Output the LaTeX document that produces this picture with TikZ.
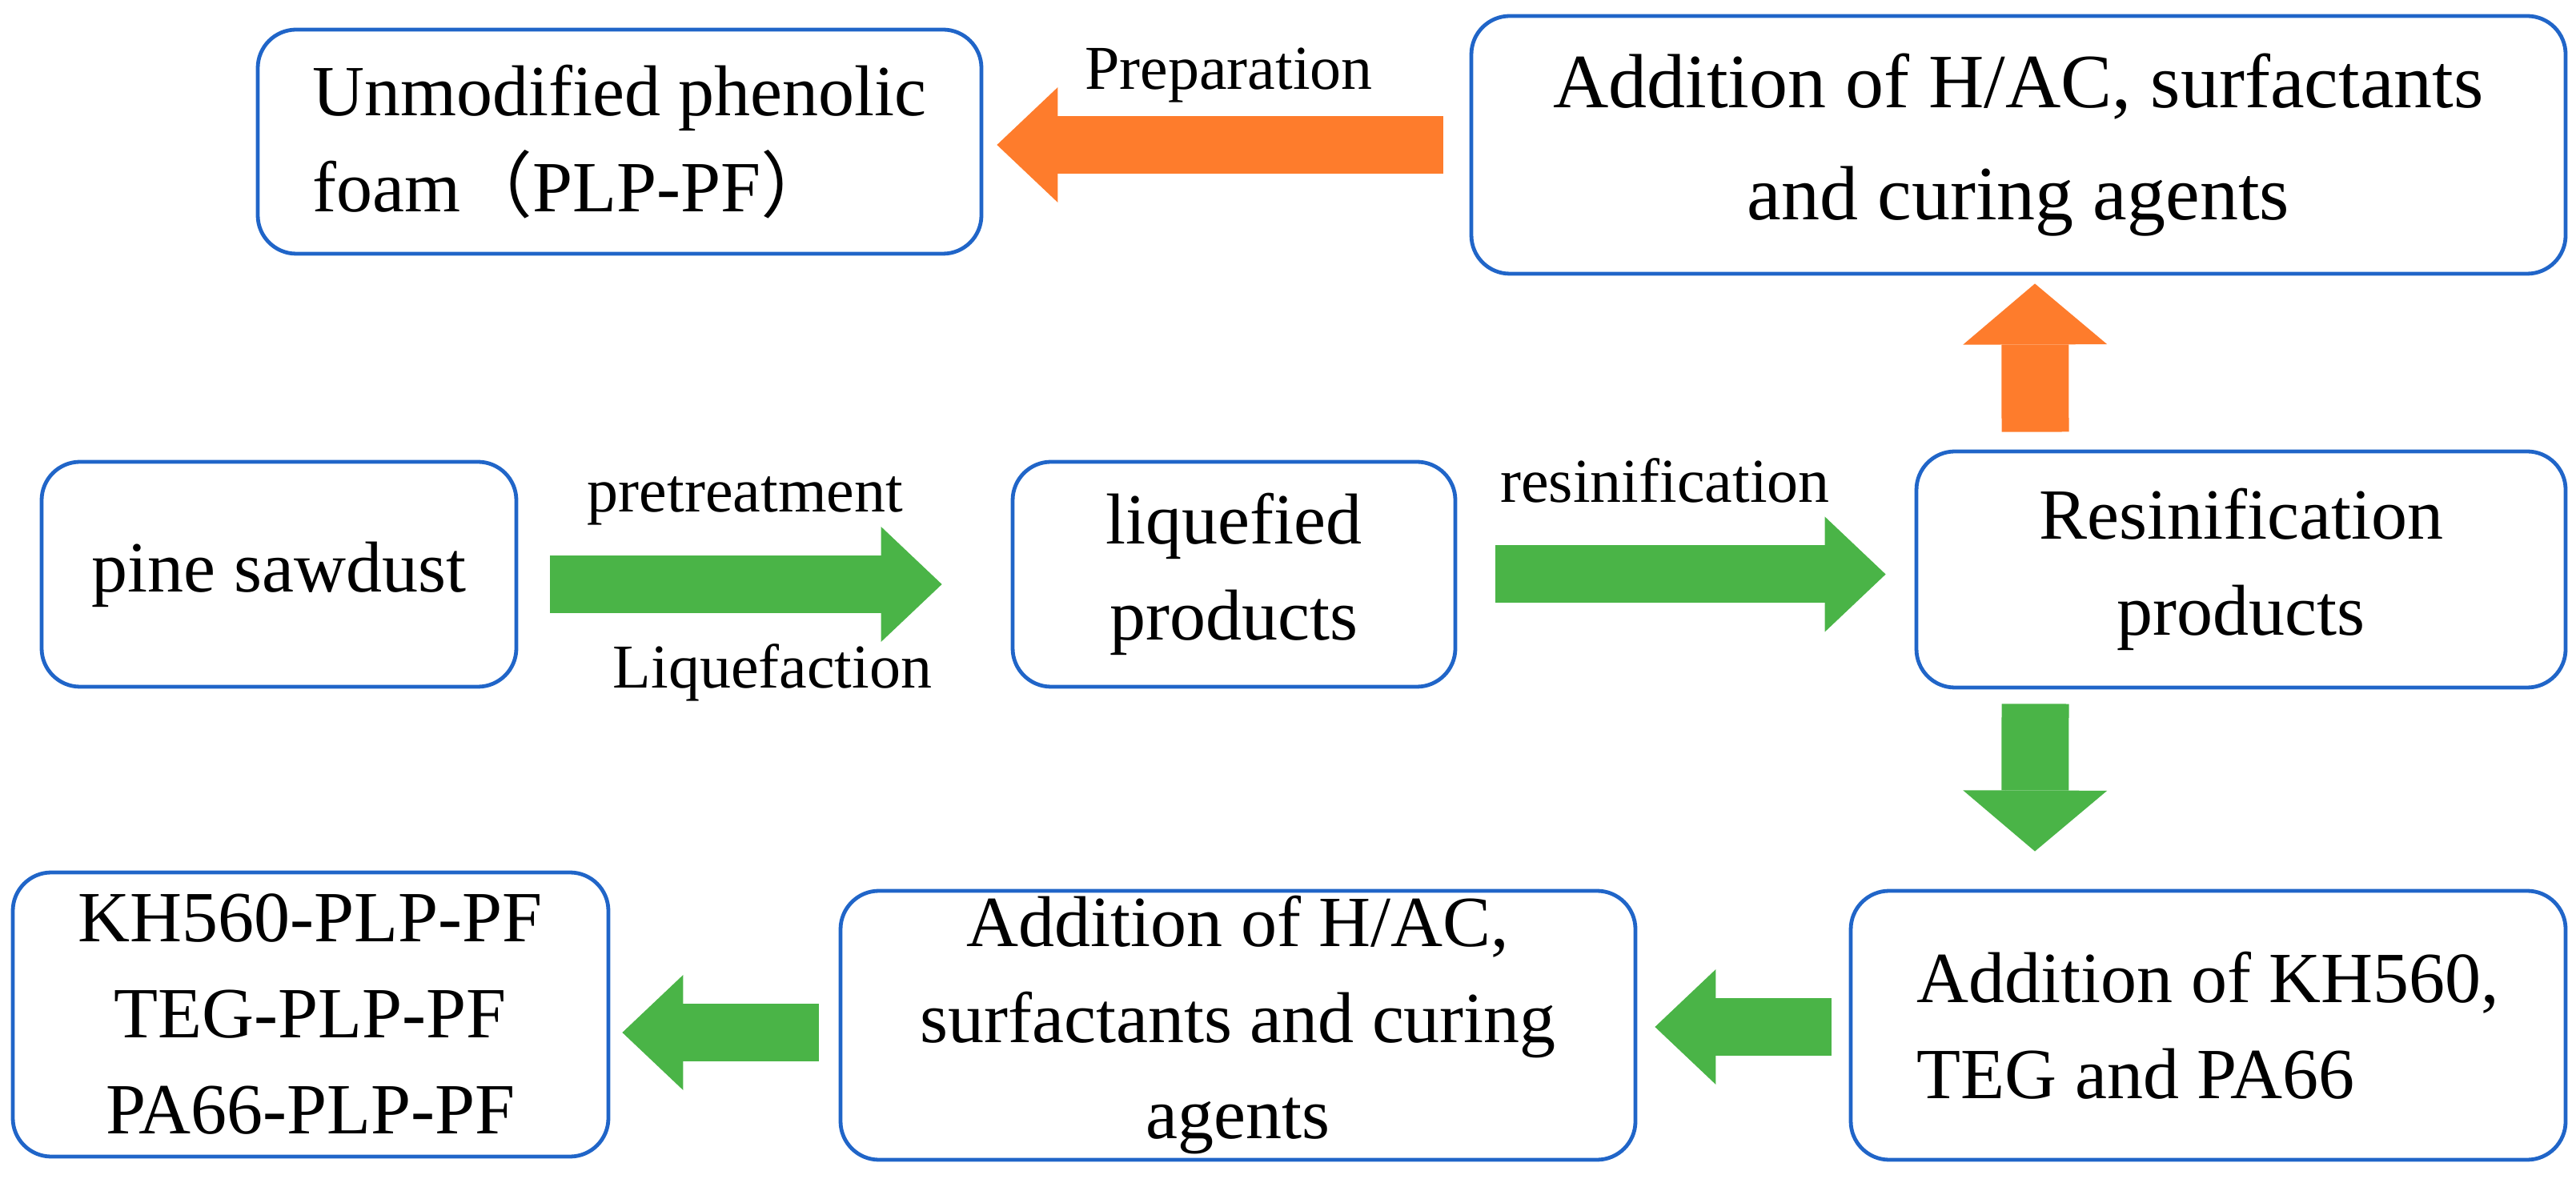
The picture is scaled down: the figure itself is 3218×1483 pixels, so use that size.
\documentclass[tikz,border=0pt]{standalone}
\usepackage{fontspec}
\setmainfont{Liberation Serif}
\newfontfamily\cjk{Noto Sans CJK SC}
\usetikzlibrary{arrows.meta,calc}
\definecolor{boxblue}{HTML}{2065C8}
\definecolor{argreen}{HTML}{4AB447}
\definecolor{arorange}{HTML}{FE7C2C}
\begin{document}
\begin{tikzpicture}[x=0.25pt,y=-0.25pt,
  box/.style={draw=boxblue, line width=1.2pt, rounded corners=12pt, inner sep=0pt,
    font=\fontsize{22.5}{30}\selectfont, align=center},
  lbl/.style={font=\fontsize{19.5}{23}\selectfont, inner sep=0pt},
  harr/.style={line width=18pt, -{Triangle[length=19pt,width=36pt,line width=0pt]}},
  varr/.style={line width=21pt, -{Triangle[length=19pt,width=45pt,line width=0pt]}}]
\useasboundingbox (0,0) rectangle (3218,1483);
% boxes
\node[box, minimum width=226pt, minimum height=70pt, align=left] (U) at (774,177)
  {Unmodified phenolic\\foam{\cjk （}PLP-PF{\cjk ）}};
\node[box, minimum width=341.75pt, minimum height=80.5pt, font=\fontsize{24}{35}\selectfont] (T) at (2521.5,181)
  {Addition of H/AC, surfactants\\and curing agents};
\node[box, minimum width=148.25pt, minimum height=70.25pt] (P) at (348.5,717.5) {pine sawdust};
\node[box, minimum width=138.25pt, minimum height=70.25pt] (L) at (1541.5,717.5) {liquefied\\products};
\node[box, minimum width=202.75pt, minimum height=73.75pt] (R) at (2799.5,711.5) {Resinification\\products};
\node[box, minimum width=223.25pt, minimum height=84pt, align=left] (K) at (2758.5,1281)
  {Addition of KH560,\\TEG and PA66};
\node[box, minimum width=248.25pt, minimum height=84pt] (M) at (1546.5,1281)
  {Addition of H/AC,\\surfactants and curing\\agents};
\node[box, minimum width=186pt, minimum height=88.75pt] (KH) at (388,1267.5)
  {KH560-PLP-PF\\TEG-PLP-PF\\PA66-PLP-PF};
% labels
\node[lbl, anchor=base] (prep) at (1535,112) {Preparation};
\node[lbl, anchor=base] (pret) at (931,640) {pretreatment};
\node[lbl, anchor=base] (liq) at (965,860) {Liquefaction};
\node[lbl, anchor=base] (resin) at (2080,628) {resinification};
% arrows
\draw[harr, argreen] ($(P.east)+(40,12.5)$) -- ($(L.west)+(-86,12.5)$);
\draw[harr, argreen] ($(L.east)+(48,0)$) -- ($(R.west)+(-36,6)$);
\draw[harr, arorange] ($(T.west)+(-33,0)$) -- ($(U.east)+(17,4)$);
\draw[varr, arorange] ($(R.north)+(-257,-22)$) -- ($(T.south)+(20.5,10)$);
\draw[varr, argreen] ($(R.south)+(-257,18)$) -- ($(K.north)+(-216.5,-47)$);
\draw[harr, argreen] ($(K.west)+(-22,2)$) -- ($(M.east)+(22,2)$);
\draw[harr, argreen] ($(M.west)+(-25,9)$) -- ($(KH.east)+(15,22.5)$);
\end{tikzpicture}
\end{document}
